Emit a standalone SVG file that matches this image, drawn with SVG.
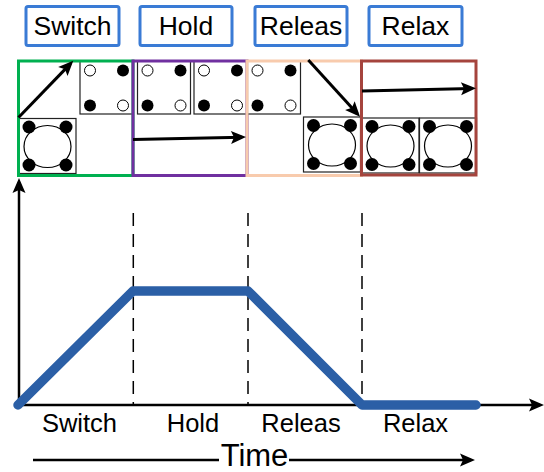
<svg xmlns="http://www.w3.org/2000/svg" width="544" height="472" viewBox="0 0 544 472">
  <style>
    text { font-family: "Liberation Sans", Arial, sans-serif; fill: #000; }
    .lbl { font-size: 26.5px; text-anchor: middle; }
    .axlbl { font-size: 25.5px; text-anchor: middle; }
    .box { fill: #fff; stroke: #3a7bd5; stroke-width: 3; }
    .panel { fill: none; stroke-width: 3; }
    .sq { fill: #fff; stroke: #222; stroke-width: 1.2; }
    .open { fill: #fff; stroke: #000; stroke-width: 1; }
    .dot { fill: #000; }
    .big { fill: #fff; stroke: #000; stroke-width: 1.2; }
    .arr { stroke: #000; stroke-width: 3; fill: none; marker-end: url(#ah); }
    .axis { stroke: #000; stroke-width: 2.5; fill: none; }
    .dash { stroke: #000; stroke-width: 1.5; stroke-dasharray: 13 8; fill: none; }
  </style>
  <defs>
    <marker id="ah" markerUnits="userSpaceOnUse" markerWidth="16" markerHeight="14" refX="11" refY="6.5" orient="auto" overflow="visible">
      <path d="M0,0 L15,6.5 L0,13 L3,6.5 z" fill="#000"/>
    </marker>
    <g id="sq4">
      <rect class="sq" x="0" y="0" width="53" height="53"/>
      <circle class="open" cx="10" cy="9.5" r="5.5"/>
      <circle class="dot" cx="43" cy="9.5" r="6"/>
      <circle class="dot" cx="10" cy="44.5" r="6"/>
      <circle class="open" cx="43" cy="44.5" r="5.5"/>
    </g>
    <g id="sqbig">
      <rect class="sq" x="0" y="0" width="57" height="55"/>
      <ellipse class="big" cx="28.5" cy="28" rx="23.5" ry="21"/>
      <circle class="dot" cx="10" cy="8.5" r="6.5"/>
      <circle class="dot" cx="47" cy="8.5" r="6.5"/>
      <circle class="dot" cx="10" cy="46.5" r="6.5"/>
      <circle class="dot" cx="47" cy="46.5" r="6.5"/>
    </g>
  </defs>

  <!-- top labels -->
  <g id="label-switch"><rect class="box" x="26" y="6.5" width="93" height="39" rx="2"/><text class="lbl" x="72.5" y="35">Switch</text></g>
  <g id="label-hold"><rect class="box" x="140" y="6.5" width="92" height="39" rx="2"/><text class="lbl" x="186" y="35">Hold</text></g>
  <g id="label-release"><rect class="box" x="255" y="6.5" width="92" height="39" rx="2"/><text class="lbl" x="301" y="35">Releas</text></g>
  <g id="label-relax"><rect class="box" x="369" y="6.5" width="93" height="39" rx="2"/><text class="lbl" x="415.5" y="35">Relax</text></g>

  <!-- panels -->
  <g id="panel-switch">
    <use href="#sq4" x="80" y="61"/>
    <use href="#sqbig" x="19" y="118.5"/>
    <rect class="panel" stroke="#00b050" x="18.5" y="61" width="114.5" height="114.5"/>
  </g>
  <g id="panel-hold">
    <use href="#sq4" x="137.5" y="61"/>
    <use href="#sq4" x="194" y="61"/>
    <rect class="panel" stroke="#7030a0" x="133" y="61" width="114" height="114.5"/>
  </g>
  <g id="panel-release">
    <use href="#sq4" x="247.5" y="61"/>
    <use href="#sqbig" x="303.5" y="117"/>
    <rect class="panel" stroke="#f8cbad" x="247" y="61" width="114.5" height="114.5"/>
  </g>
  <g id="panel-relax">
    <use href="#sqbig" x="362" y="118"/>
    <use href="#sqbig" x="419.5" y="118"/>
    <rect class="panel" stroke="#a5443d" x="361.5" y="61" width="114.5" height="114"/>
  </g>

  <!-- connectors -->
  <g id="connectors">
    <line class="arr" x1="18.5" y1="117.5" x2="70.5" y2="63.6"/>
    <line class="arr" x1="133" y1="139.5" x2="242" y2="137.2"/>
    <line class="arr" x1="308.3" y1="60" x2="357.3" y2="113.7"/>
    <line class="arr" x1="362" y1="91" x2="472" y2="88.4"/>
  </g>

  <!-- chart -->
  <g id="chart">
    <line class="dash" x1="133.3" y1="213" x2="133.3" y2="405"/>
    <line class="dash" x1="248" y1="213" x2="248" y2="405"/>
    <line class="dash" x1="362" y1="213" x2="362" y2="405"/>
    <line class="axis" x1="19" y1="405" x2="19" y2="182" marker-end="url(#ah)"/>
    <line class="axis" x1="19" y1="405" x2="540" y2="405" marker-end="url(#ah)"/>
    <polyline points="18,405 133,291 248,291 362,405 476,405" fill="none" stroke="#2b5fa6" stroke-width="9.5" stroke-linecap="round" stroke-linejoin="round"/>
    <text class="axlbl" x="79.5" y="432">Switch</text>
    <text class="axlbl" x="193" y="432">Hold</text>
    <text class="axlbl" x="301" y="432">Releas</text>
    <text class="axlbl" x="415.5" y="432">Relax</text>
    <line class="axis" x1="33" y1="460" x2="219" y2="460"/>
    <line class="axis" x1="289" y1="460" x2="471" y2="460" marker-end="url(#ah)"/>
    <text x="254.5" y="466" font-size="31" text-anchor="middle">Time</text>
  </g>
</svg>
